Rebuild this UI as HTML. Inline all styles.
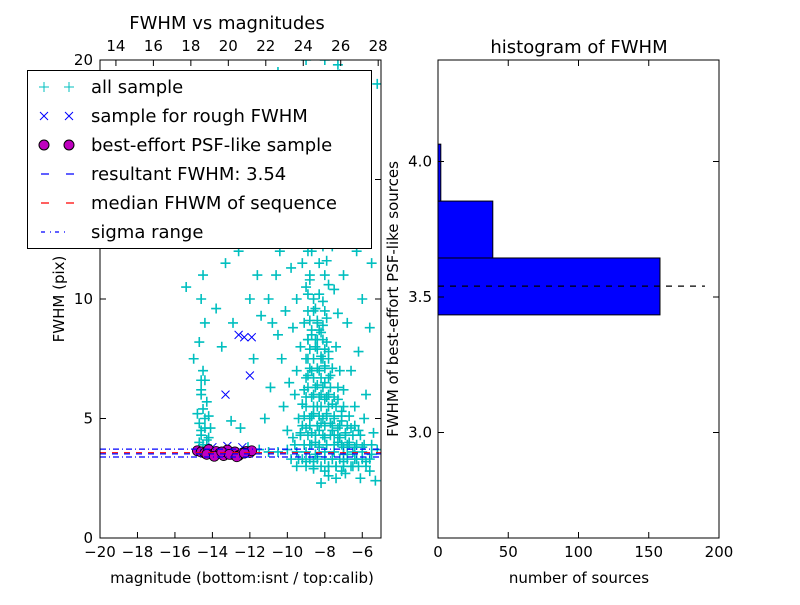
<!DOCTYPE html>
<html><head><meta charset="utf-8"><style>
body{margin:0;background:#fff;width:800px;height:600px;overflow:hidden}
svg text{font-family:"DejaVu Sans","Liberation Sans",sans-serif;fill:#000}
</style></head><body>
<svg id="fig" width="800" height="600" viewBox="0 0 800 600" xmlns="http://www.w3.org/2000/svg">
<rect width="800" height="600" fill="#fff"/>
<g id="left"></g><g id="right"></g>
</svg>
<script>
// ---- data: scatter (magnitude, fwhm) ----
const allMag=[-8.5,-8.3,-8.1,-8.4,-8.2,-8.0,-8.6,-8.3,-8.1,-8.5,-8.7,-8.4,-8.9,-8.6,-9.0,-8.8,-9.2,-8.7,-9.1,-8.5,-7.9,-7.7,-7.5,-7.3,-7.0,-6.8,-7.8,-7.6,-8.8,-9.0,-8.9,-8.0,-7.8,-8.2,-7.9,-8.3,-8.0,-7.6,-9.3,-9.5,-9.6,-9.4,-9.7,-10,-10.2,-9.9,-10.3,-10.5,-10.1,-10.8,-11,-10.6,-10.4,-9.8,-9.3,-8.6,-8,-7.5,-7.2,-7,-6.8,-6.6,-6.4,-6.2,-6,-5.8,-5.6,-7.4,-7.8,-8.2,-8.6,-9,-6.5,-6.1,-7.1,-7.6,-8.4,-8.8,-7.3,-7.1,-7.0,-7.2,-7.4,-7.3,-7.5,-8.1,-8.3,-8.9,-8.2,-7.8,-8.5,-9.2,-9.6,-10.2,-10.8,-11.2,-11.6,-12.0,-7.0,-6.5,-6.3,-5.5,-5.2,-9.0,-8.0,-10.5,-12,-12.6,-13.3,-13.8,-14.2,-14.5,-14.6,-14.4,-14.7,-14.5,-14.6,-14.4,-14.6,-14.7,-14.3,-15.0,-15.4,-14.9,-13.8,-13.5,-12.9,-11.4,-11.8,-10.9,-11.2,-12.5,-13,-12.1,-11.5,-11,-10.5,-10,-9.5,-9,-8.5,-8,-7.5,-7,-6.5,-6,-5.5,-5.2,-5.3,-5.8,-5.6,-6,-6.2,-5.9,-5.4,-9.7,-9.5,-9.8,-7.7,-6.7,-7.3,-8.7,-9.9,-11.4,-12.5,-13.5,-14,
-8.0,-8.2,-8.6,-8.4,-8.7,-8.2,-8.5,-8.1,-8.8,-8.3,-8.6,-9.0,-7.9,-8.1,-8.9,-9.1,-8.0,-7.7,-7.6,-7.9,-8.3,-7.2,-6.9,-6.7,-6.4,-6.8,-7.5,-9.2,-9.3,-8.7,-8.9,-8.4,-8.0,-8.9,-9.1,-7.8,-7.9,-8.5,-8.1,-7.3,-7.1,-6.6,-6.3,-7.0,-7.8,-8.6,-9.4,-6.9,-7.4,-8.0,-14.5,-14.2,-14.8,-14.6,-14.3,-14.1,
-9.5,-9,-8.6,-8.2,-7.8,-7.4,-7,-6.6,-6.2,-5.8,
-9.8,-9.2,-8.8,-8.4,-8,-7.6,-7.2,-6.8,-6.4,-6,-5.6,
-9.6,-9.1,-8.7,-8.3,-7.9,-7.5,-7.1,-6.7,-6.3,-5.9,-5.5,
-9.3,-8.9,-8.5,-8.1,-7.7,-7.3,-6.9,-6.5,-6.1,
-9.2,-8.8,-8.4,-8,-7.6,-7.2,-6.8,-6.4,
-9.1,-8.7,-8.3,-7.9,-7.5,-7.1,-6.7,
-9.0,-8.6,-8.2,-7.8,-7.4,-7.0,
-9.0,-8.7,-8.3,-7.9,-7.5,
-8.9,-8.5,-8.1,-7.7,-7.3,
-9.0,-8.6,-8.2,-7.8,
-8.8,-8.4,-8.0,-7.6,
-9.0,-8.6,-8.2,-7.8,
-8.8,-8.4,-8.0,
-8.9,-8.5,-8.1,
-8.7,-8.3,-8.8,-8.4,-8.6,-8.9,
-14.5,-14.3,-14.6,-14.4,-14.7,-14.2,-14.5,-14.3,-14.6,-14.4,
-9.4,-8.8,-8.2,-7.6,-9.1,-8.5,-7.9,-7.2,-8.7,-8.1,-9.6,-10.3,-11.0,-6.9,-6.4];
const allFwhm=[4,4.5,5,5.5,6,6.5,6,7,7.5,8,8.5,9,9.5,10,10.5,11,11.5,12,12.5,13,5.2,4.8,4.3,4.0,3.8,3.5,6,5.6,5,4.6,6.8,7.2,7.8,8.6,9.2,10.2,11,12.2,8,7,6,5,4.2,4.5,5.5,6.5,7.5,8.5,9.5,9,10,11,12,13,14,14.5,15,14,13,11,9,7,5.5,4.5,3.8,3.2,2.8,3,2.6,2.3,2.9,3.2,3,2.5,2.8,3.3,3.4,3.9,4.6,5.3,6.2,7,8,9.4,10.4,12.2,13.5,16,17.5,18.5,19,18,16.5,15,14,12.5,11,10,16,15,12,11.5,19,20,20,19.5,13,12,11.5,12.8,14,11,10,9,8.2,7,6,5,4.5,4,3.9,7.5,10.5,13,9.6,8,9,9.3,7.5,6.3,5,4.6,4.9,3.8,3.7,3.6,3.6,3.7,3.6,3.6,3.5,3.6,3.6,3.5,3.6,3.6,3.5,3.7,2.4,6,8.8,10,7.8,5,4.4,8.8,10,11.3,16.8,18,19.8,17.6,17,16,16.6,17.5,15.5,
4.2,4.8,5.2,6.4,7,7.6,9.6,9.9,10.8,11.5,12.4,13.2,8.2,8.9,7.5,6.2,5.8,6.8,4.5,3.9,3.8,4.2,4.4,4.0,3.8,3.9,5,5.6,4.4,4.4,8.3,8.3,9.5,12,9,10.6,11.6,15.5,14,5.8,4.9,4.6,3.3,3.2,3.0,3.2,3.3,2.7,2.5,2.8,3.6,4.2,5.2,6.6,3.8,4.6,
3.0,3.0,3.0,3.0,3.0,3.0,3.0,3.0,3.0,3.0,
3.3,3.3,3.3,3.3,3.3,3.3,3.3,3.3,3.3,3.3,3.3,
3.9,3.9,3.9,3.9,3.9,3.9,3.9,3.9,3.9,3.9,3.9,
4.3,4.3,4.3,4.3,4.3,4.3,4.3,4.3,4.3,
4.7,4.7,4.7,4.7,4.7,4.7,4.7,4.7,
5.1,5.1,5.1,5.1,5.1,5.1,5.1,
5.5,5.5,5.5,5.5,5.5,5.5,
5.9,5.9,5.9,5.9,5.9,
6.3,6.3,6.3,6.3,6.3,
6.7,6.7,6.7,6.7,
7.1,7.1,7.1,7.1,
7.5,7.5,7.5,7.5,
7.9,7.9,7.9,
8.3,8.3,8.3,
8.7,8.7,9.1,9.1,9.5,10.2,
3.9,4.1,4.3,4.6,4.8,5.1,5.4,5.7,6.2,6.6,
13.8,14.6,15.2,16.2,16.8,17.9,18.8,19.4,14.9,12.9,13.4,14.4,15.8,12.5,13.9];
const roughMag=[-12.6,-12.3,-11.9,-12.0,-13.3,-14.0,-13.2,-12.4];
const roughFwhm=[8.5,8.4,8.4,6.8,6.0,3.8,3.85,3.8];
const psfMag=[-14.8,-14.6,-14.4,-14.2,-14.0,-13.8,-13.6,-13.4,-13.2,-13.0,-12.8,-12.6,-12.4,-12.2,-12.0,-11.9,-14.3,-13.9,-13.5,-13.1,-12.7,-12.3];
const psfFwhm=[3.65,3.6,3.55,3.7,3.5,3.62,3.55,3.45,3.68,3.5,3.6,3.45,3.55,3.62,3.58,3.65,3.5,3.42,3.6,3.5,3.4,3.55];
const resultFwhm=3.54, medianFwhm=3.55, sigmaLo=3.39, sigmaHi=3.72;
// ---- data: histogram ----
const binEdges=[3.434,3.644,3.854,4.064];
const binCounts=[158,39,2];
const xTicksL=[-20,-18,-16,-14,-12,-10,-8,-6];
const xTicksTop=[14,16,18,20,22,24,26,28];
const yTicksL=[0,5,10,15,20];
const xTicksR=[0,50,100,150,200];
const yTicksR=[3.0,3.5,4.0];

const NS="http://www.w3.org/2000/svg";
function mk(parent,tag,attrs,txt){const e=document.createElementNS(NS,tag);for(const k in attrs)e.setAttribute(k,attrs[k]);if(txt!==undefined)e.textContent=txt;parent.appendChild(e);return e;}
const L=document.getElementById('left'),R=document.getElementById('right');
const lx0=100,lx1=381,ly0=538,ly1=60;
const xL=v=>lx0+(v+20)/15*(lx1-lx0);
const yL=v=>ly0-v/20*(ly0-ly1);
const xTop=v=>xL(v-33.15);
const clipL=mk(document.getElementById('fig'),'clipPath',{id:'clipL'});
mk(clipL,'rect',{x:lx0,y:ly1,width:lx1-lx0,height:ly0-ly1});
const pts=mk(L,'g',{'clip-path':'url(#clipL)'});


allMag.forEach((m,i)=>{const x=xL(m),y=yL(allFwhm[i]);
 const p=mk(pts,'path',{d:`M${x-5},${y}H${x+5}M${x},${y-5}V${y+5}`,stroke:'#00bfbf','stroke-width':1.6});
 
 });
roughMag.forEach((m,i)=>{const x=xL(m),y=yL(roughFwhm[i]);
 const p=mk(pts,'path',{d:`M${x-4},${y-4}L${x+4},${y+4}M${x-4},${y+4}L${x+4},${y-4}`,stroke:'#00f','stroke-width':1});
 
 });
psfMag.forEach((m,i)=>{const c=mk(pts,'circle',{cx:xL(m),cy:yL(psfFwhm[i]),r:5,fill:'#bf00bf',stroke:'#000','stroke-width':0.8});
 
 });
[[sigmaLo,'#00f','6,3,1,3'],[sigmaHi,'#00f','6,3,1,3'],[medianFwhm+0.02,'#f00','6,6'],[resultFwhm-0.02,'#00f','6,6']].forEach(([v,c,d],i)=>{
 const l=mk(pts,'line',{x1:lx0,x2:lx1,y1:yL(v),y2:yL(v),stroke:c,'stroke-dasharray':d,'stroke-width':1.2});
 
 });
const fr=mk(L,'rect',{x:lx0,y:ly1,width:lx1-lx0,height:ly0-ly1,fill:'none',stroke:'#000','stroke-width':1});

xTicksL.forEach(v=>{const x=xL(v);mk(L,'path',{d:`M${x},${ly0}v-6`,stroke:'#000'});
 const t=mk(L,'text',{x:x,y:ly0+19,'text-anchor':'middle','font-size':15},'\u2212'+Math.abs(v));
 });
xTicksTop.forEach(v=>{const x=xTop(v);mk(L,'path',{d:`M${x},${ly1}v6`,stroke:'#000'});
 const t=mk(L,'text',{x:x,y:ly1-9,'text-anchor':'middle','font-size':15},String(v));
 });
yTicksL.forEach(v=>{const y=yL(v);mk(L,'path',{d:`M${lx0},${y}h6M${lx1},${y}h-6`,stroke:'#000'});
 const t=mk(L,'text',{x:lx0-7,y:y+5,'text-anchor':'end','font-size':15},String(v));
 });
const rx0=438,rx1=719,ry0=538,ry1=60;
const xR=v=>rx0+v/200*(rx1-rx0);
const yR=v=>297-(v-3.5)*271;
binCounts.forEach((c,i)=>{const b=mk(R,'rect',{x:rx0,y:yR(binEdges[i+1]),width:xR(c)-rx0,height:yR(binEdges[i])-yR(binEdges[i+1]),fill:'#00f',stroke:'#000','stroke-width':1});
 });
const hl=mk(R,'line',{x1:rx0,x2:xR(190),y1:yR(resultFwhm),y2:yR(resultFwhm),stroke:'#000','stroke-dasharray':'6,6','stroke-width':1.2});

const fr2=mk(R,'rect',{x:rx0,y:ry1,width:rx1-rx0,height:ry0-ry1,fill:'none',stroke:'#000','stroke-width':1});

xTicksR.forEach(v=>{const x=xR(v);mk(R,'path',{d:`M${x},${ry0}v-6M${x},${ry1}v6`,stroke:'#000'});
 const t=mk(R,'text',{x:x,y:ry0+19,'text-anchor':'middle','font-size':15},String(v));
 });
yTicksR.forEach(v=>{const y=yR(v);mk(R,'path',{d:`M${rx0},${y}h6M${rx1},${y}h-6`,stroke:'#000'});
 const t=mk(R,'text',{x:rx0-6,y:y+5,'text-anchor':'end','font-size':15},v.toFixed(1));
 });
</script>
<svg width="800" height="600" style="position:absolute;left:0;top:0" xmlns="http://www.w3.org/2000/svg">
<text x="227" y="29" text-anchor="middle" font-size="18">FWHM vs magnitudes</text>
<text x="579" y="53" text-anchor="middle" font-size="18">histogram of FWHM</text>
<text x="242" y="583" text-anchor="middle" font-size="15">magnitude (bottom:isnt / top:calib)</text>
<text x="579" y="583" text-anchor="middle" font-size="15">number of sources</text>
<text transform="translate(64,299) rotate(-90)" text-anchor="middle" font-size="15">FWHM (pix)</text>
<text transform="translate(398,299) rotate(-90)" text-anchor="middle" font-size="15">FWHM of best-effort PSF-like sources</text>
<g>
<rect x="27.5" y="70.5" width="344" height="178" fill="#fff" stroke="#000"/>
<path d="M39,87h10M44,82v10M64,87h10M69,82v10" stroke="#00bfbf"/>
<path d="M40,112l8,8M40,120l8,-8M65,112l8,8M65,120l8,-8" stroke="#00f"/>
<circle cx="44" cy="145" r="5" fill="#bf00bf" stroke="#000"/><circle cx="69" cy="145" r="5" fill="#bf00bf" stroke="#000"/>
<path d="M41,174h8M66,174h8" stroke="#00f" stroke-width="1.2"/>
<path d="M41,203h8M66,203h8" stroke="#f00" stroke-width="1.2"/>
<path d="M41,232h4M50,232h1M55,232h4M64,232h1" stroke="#00f" stroke-width="1.2"/>
<g font-size="18">
<text x="91" y="93">all sample</text>
<text x="91" y="122">sample for rough FWHM</text>
<text x="91" y="151">best-effort PSF-like sample</text>
<text x="91" y="180">resultant FWHM: 3.54</text>
<text x="91" y="209">median FHWM of sequence</text>
<text x="91" y="238">sigma range</text>
</g></g>
</svg>
</body></html>
